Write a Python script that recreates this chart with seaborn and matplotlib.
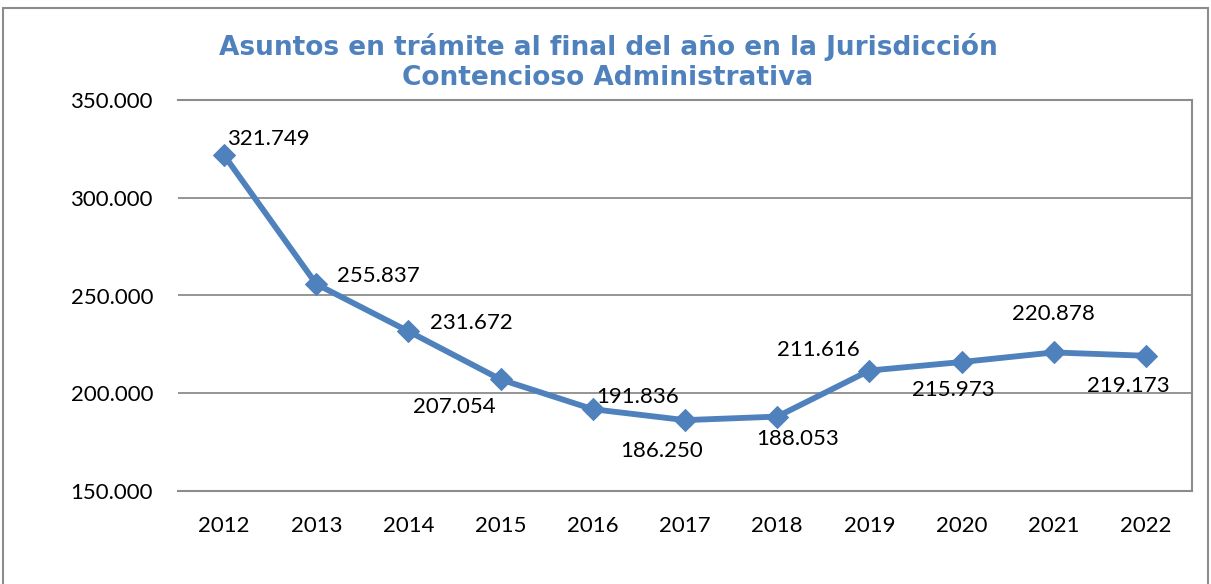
import matplotlib
matplotlib.use('Agg')
import matplotlib.pyplot as plt
import pandas as pd
import seaborn as sns
from matplotlib.patches import Rectangle

# datos
years = ['2012', '2013', '2014', '2015', '2016', '2017', '2018', '2019', '2020', '2021', '2022']
asuntos = [321749, 255837, 231672, 207054, 191836, 186250, 188053, 211616, 215973, 220878, 219173]
etiquetas = ['321.749', '255.837', '231.672', '207.054', '191.836', '186.250',
             '188.053', '211.616', '215.973', '220.878', '219.173']

# desplazamiento de cada etiqueta (puntos)
offsets = [(32, 12), (45, 6), (45, 6), (-33, -20), (32, 9), (-17, -22),
           (15, -16), (-37, 15), (-6, -20), (0, 28), (-13, -22)]

BLUE = '#4F81BD'
GRID = '#8C8C8C'

sns.set_theme(style='white')
plt.rcParams['font.family'] = ['Lato', 'DejaVu Sans']

df = pd.DataFrame({'year': years, 'value': asuntos})
df['pos'] = range(len(df))

fig = plt.figure(figsize=(12.11, 5.84), dpi=100)
ax = fig.add_axes([178 / 1211, 1 - 491 / 584, (1192 - 178) / 1211, (491 - 100) / 584])

sns.lineplot(data=df, x='pos', y='value', ax=ax, color=BLUE, linewidth=4.2,
             marker='D', markersize=11, markeredgecolor=BLUE, zorder=3)

ax.set_xlim(-0.5, len(years) - 0.5)
ax.set_ylim(150000, 350000)
ax.set_yticks([150000, 200000, 250000, 300000, 350000])
ax.set_yticklabels(['150.000', '200.000', '250.000', '300.000', '350.000'])
ax.set_xticks(range(len(years)))
ax.set_xticklabels(years)
ax.tick_params(axis='both', labelsize=16, length=0, colors='black')
ax.tick_params(axis='y', pad=18)
ax.tick_params(axis='x', pad=18)
ax.set_xlabel('')
ax.set_ylabel('')
ax.yaxis.grid(True, color=GRID, linewidth=1.3)
ax.xaxis.grid(False)
for side in ['top', 'right', 'bottom']:
    ax.spines[side].set_visible(True)
    ax.spines[side].set_color(GRID)
    ax.spines[side].set_linewidth(1.5)
ax.spines['left'].set_visible(False)

for i, (val, txt, off) in enumerate(zip(asuntos, etiquetas, offsets)):
    ax.annotate(txt, (i, val), xytext=off, textcoords='offset points',
                ha='center', va='center', fontsize=16, color='black', zorder=4)

fig.text(608 / 1211, 1 - 62 / 584,
         'Asuntos en trámite al final del año en la Jurisdicción\nContencioso Administrativa',
         ha='center', va='center', fontsize=19, fontweight='bold', color=BLUE,
         family=['DejaVu Sans'], linespacing=1.18)

# borde exterior del gráfico
fig.patches.append(Rectangle((3 / 1211, -0.05), (1208 - 3) / 1211, 1.05 - 8 / 584,
                             transform=fig.transFigure, fill=False,
                             edgecolor='#8C8C8C', linewidth=1.5))

fig.savefig('out.png', dpi=100)
